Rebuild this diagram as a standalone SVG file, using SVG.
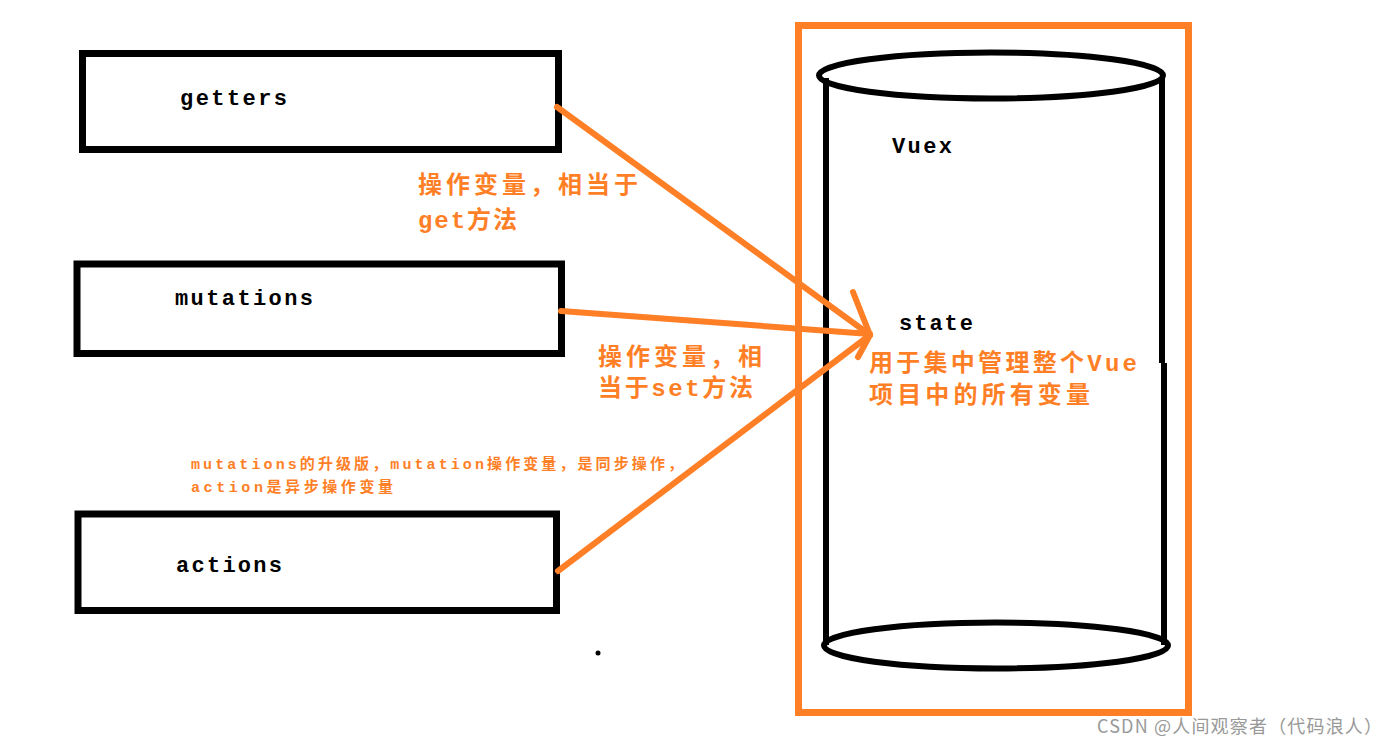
<svg xmlns="http://www.w3.org/2000/svg" width="1396" height="747" viewBox="0 0 1396 747">
<style>
.box{fill:#fff;stroke:#000;stroke-width:7}
.cyl{fill:none;stroke:#000;stroke-width:6}
.lbl{font-family:"Liberation Mono","DejaVu Sans Mono",monospace;font-weight:bold;font-size:22px;fill:#000}
.note{font-family:"Liberation Mono","Noto Sans CJK SC",monospace;font-weight:bold;fill:#FF7F27}
.big{font-size:24px}
.small{font-size:15px}
.conn{stroke:#FF7F27;stroke-width:6;stroke-linecap:round;fill:none}
</style>
<rect width="1396" height="747" fill="#fff"/>
<g id="getters">
<rect class="box" x="82.5" y="53.5" width="476" height="96"/>
<text class="lbl" x="180" y="105" textLength="107" lengthAdjust="spacing">getters</text>
</g>
<g id="mutations">
<rect class="box" x="77" y="264" width="484.5" height="89.5"/>
<text class="lbl" x="175" y="305" textLength="138" lengthAdjust="spacing">mutations</text>
</g>
<g id="actions">
<rect class="box" x="78" y="514" width="478.5" height="96.5"/>
<text class="lbl" x="176" y="572" textLength="106" lengthAdjust="spacing">actions</text>
</g>
<g id="vuex">
<rect x="798.5" y="25.5" width="390" height="687" fill="none" stroke="#FF7F27" stroke-width="7"/>
<line class="cyl" x1="826" y1="78" x2="826" y2="645"/>
<line class="cyl" x1="1162" y1="78" x2="1162" y2="363"/>
<line class="cyl" x1="1164" y1="363" x2="1164" y2="645"/>
<ellipse class="cyl" cx="991" cy="75.5" rx="172" ry="23"/>
<ellipse class="cyl" cx="996" cy="645.5" rx="172" ry="23"/>
<text class="lbl" x="892" y="153" textLength="60" lengthAdjust="spacing">Vuex</text>
<text class="lbl" x="899" y="330" textLength="74" lengthAdjust="spacing">state</text>
<text class="note big" x="869" y="371" textLength="268" lengthAdjust="spacing">用于集中管理整个Vue</text>
<text class="note big" x="869" y="403" textLength="221" lengthAdjust="spacing">项目中的所有变量</text>
</g>
<g id="connectors">
<line class="conn" x1="557" y1="107" x2="870" y2="335"/>
<line class="conn" x1="561" y1="311" x2="870" y2="334"/>
<line class="conn" x1="558" y1="571" x2="870" y2="335"/>
<line class="conn" x1="853" y1="292" x2="870" y2="335"/>
<line class="conn" x1="858" y1="357" x2="870" y2="335"/>
</g>
<g id="labels">
<text class="note big" x="418" y="193" textLength="220" lengthAdjust="spacing">操作变量，相当于</text>
<text class="note big" x="418" y="228" textLength="99" lengthAdjust="spacing">get方法</text>
<text class="note big" x="598" y="365" textLength="164" lengthAdjust="spacing">操作变量，相</text>
<text class="note big" x="598" y="396" textLength="155" lengthAdjust="spacing">当于set方法</text>
<text class="note small" x="191" y="469" textLength="492" lengthAdjust="spacing">mutations的升级版，mutation操作变量，是同步操作，</text>
<text class="note small" x="191" y="492" textLength="202" lengthAdjust="spacing">action是异步操作变量</text>
</g>
<circle cx="598" cy="653" r="2.5" fill="#000"/>
<text x="1097" y="733" font-family="'Noto Sans CJK SC','Noto Sans',sans-serif" font-size="18" fill="#999" textLength="285" lengthAdjust="spacing">CSDN @人间观察者（代码浪人）</text>
</svg>
